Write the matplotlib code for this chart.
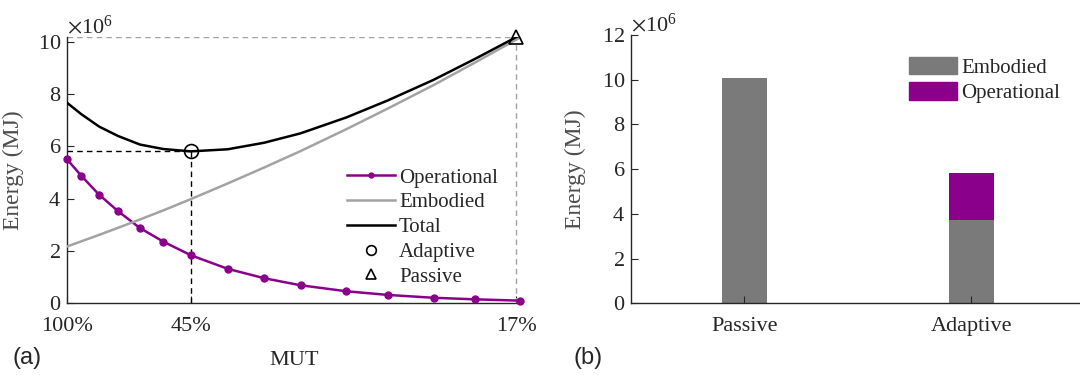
import matplotlib

matplotlib.use("Agg")
import matplotlib.pyplot as plt
from matplotlib.patches import Patch
from matplotlib.ticker import ScalarFormatter

# MUT sweep, positions along the axis (0 = 100%, 1 = 17%)
mut_pos = [0, 0.032, 0.072, 0.114, 0.163, 0.215, 0.276, 0.358, 0.439, 0.520,
           0.622, 0.714, 0.816, 0.909, 1.008]
operational = [5.52, 4.88, 4.15, 3.52, 2.87, 2.35, 1.83, 1.31, 0.95, 0.68,
               0.45, 0.31, 0.20, 0.14, 0.09]
embodied = [2.16, 2.36, 2.61, 2.88, 3.20, 3.55, 3.98, 4.58, 5.19, 5.82,
            6.66, 7.45, 8.35, 9.22, 10.17]
total = [o + e for o, e in zip(operational, embodied)]

tick_pos = [0, 0.276, 1.0]
tick_labels = ["100%", "45%", "17%"]

adaptive_pt = (0.276, 5.82)
passive_pt = (1.0, 10.18)

bar_names = ["Passive", "Adaptive"]
bar_embodied = [10.1, 3.72]
bar_operational = [0.0, 2.09]

SCALE = 1e6
PURPLE = "#8b008b"
LIGHT_GRAY = "#a3a3a3"
BAR_GRAY = "#7a7a7a"
TXT = "#262626"

plt.rcParams["font.family"] = ["Liberation Serif", "DejaVu Serif"]
plt.rcParams["mathtext.fontset"] = "stix"
plt.rcParams["font.size"] = 15


def style_axes(ax):
    ax.spines["top"].set_visible(False)
    ax.spines["right"].set_visible(False)
    for side in ("left", "bottom"):
        ax.spines[side].set_color(TXT)
        ax.spines[side].set_linewidth(1.0)
    ax.tick_params(direction="in", length=5, width=0.8, colors=TXT, labelsize=16)
    ax.tick_params(axis="y", pad=4)
    ax.tick_params(axis="x", pad=10)
    fmt = ScalarFormatter(useMathText=True)
    fmt.set_powerlimits((6, 6))
    ax.yaxis.set_major_formatter(fmt)
    ax.yaxis.get_offset_text().set_fontsize(16)
    ax.yaxis.get_offset_text().set_color(TXT)


fig = plt.figure(figsize=(10.8, 3.75), dpi=100)
s = lambda v: [x * SCALE for x in v]

# (a) energy over MUT
ax1 = fig.add_axes([0.0618, 0.192, 0.4204, 0.7085])
dash = (0, (4, 3))
ax1.plot([0, passive_pt[0]], [passive_pt[1] * SCALE] * 2, ls=dash, color=LIGHT_GRAY, lw=1.0)
ax1.plot([passive_pt[0]] * 2, [0, passive_pt[1] * SCALE], ls=dash, color=LIGHT_GRAY, lw=1.0)
ax1.plot([0, adaptive_pt[0]], [adaptive_pt[1] * SCALE] * 2, ls=dash, color="black", lw=1.0)
ax1.plot([adaptive_pt[0]] * 2, [0, adaptive_pt[1] * SCALE], ls=dash, color="black", lw=1.0)

ax1.plot(mut_pos, s(operational), color=PURPLE, lw=1.8, marker="o", ms=5,
         label="Operational", clip_on=False, zorder=3)
ax1.plot(mut_pos, s(embodied), color=LIGHT_GRAY, lw=1.8, label="Embodied", zorder=3)
ax1.plot(mut_pos, s(total), color="black", lw=1.8, label="Total", zorder=3)
ax1.plot([adaptive_pt[0]], [adaptive_pt[1] * SCALE], ls="none", marker="o", ms=10,
         mfc="none", mec="black", mew=1.2, label="Adaptive", zorder=4)
ax1.plot([passive_pt[0]], [passive_pt[1] * SCALE], ls="none", marker="^", ms=10,
         mfc="none", mec="black", mew=1.2, label="Passive", clip_on=False, zorder=4)

ax1.set_xlim(0, 1.01)
ax1.set_ylim(0, passive_pt[1] * SCALE)
ax1.set_yticks([v * SCALE for v in range(0, 11, 2)])
ax1.set_xticks(tick_pos)
ax1.set_xticklabels(tick_labels)
style_axes(ax1)
ax1.set_xlabel("MUT", color=TXT, fontsize=16)
ax1.xaxis.set_label_coords(0.5, -0.18)
ax1.set_ylabel("Energy (MJ)", color="#4d4d4d", fontsize=17)
ax1.yaxis.set_label_coords(-0.094, 0.5)

handles, labels = ax1.get_legend_handles_labels()
leg1 = ax1.legend(handles, labels, loc="upper left", bbox_to_anchor=(0.617, 0.508),
                  frameon=False, handlelength=2.3, handletextpad=0.2, labelspacing=0.25,
                  borderpad=0, borderaxespad=0, markerscale=0.7, fontsize=15)
for t in leg1.get_texts():
    t.set_color(TXT)

# (b) stacked bars
ax2 = fig.add_axes([0.584, 0.191, 0.4204, 0.7155])
pos = [1, 2]
ax2.bar(pos, s(bar_embodied), width=0.2, color=BAR_GRAY, label="Embodied")
ax2.bar(pos, s(bar_operational), width=0.2, bottom=s(bar_embodied), color=PURPLE,
        label="Operational")
ax2.set_xlim(0.5, 2.5)
ax2.set_ylim(0, 12 * SCALE)
ax2.set_yticks([v * SCALE for v in range(0, 13, 2)])
ax2.set_xticks(pos)
ax2.set_xticklabels(bar_names)
style_axes(ax2)
ax2.set_ylabel("Energy (MJ)", color="#4d4d4d", fontsize=17)
ax2.yaxis.set_label_coords(-0.099, 0.5)
leg2 = ax2.legend([Patch(color=BAR_GRAY), Patch(color=PURPLE)], ["Embodied", "Operational"],
                  loc="upper left", bbox_to_anchor=(0.613, 0.919), frameon=False,
                  handlelength=2.3, handleheight=0.9, handletextpad=0.2, labelspacing=0.22,
                  borderpad=0, borderaxespad=0, fontsize=15)
for t in leg2.get_texts():
    t.set_color(TXT)

fig.text(0.012, 0.045, "(a)", family=["Liberation Sans", "DejaVu Sans"], fontsize=17,
         color=TXT, va="center", ha="left")
fig.text(0.531, 0.045, "(b)", family=["Liberation Sans", "DejaVu Sans"], fontsize=17,
         color=TXT, va="center", ha="left")

fig.savefig("out.png", dpi=100)
